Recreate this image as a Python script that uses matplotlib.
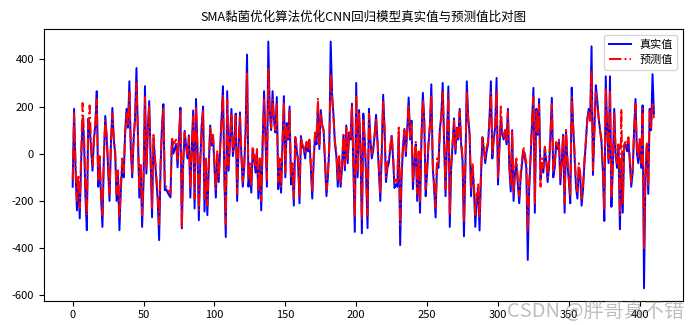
import numpy as np
import matplotlib
matplotlib.use('Agg')
from matplotlib import pyplot as plt

plt.rcParams['font.family'] = ['Noto Sans CJK SC', 'DejaVu Sans']
plt.rcParams['axes.unicode_minus'] = False

# values, 411 samples
y_true = [
  -140, 190, -60, -240, -120, -274, -30, 150, 60, -180,
  -324, 148, 110, 20, -72, 60, 120, 265, -140, -30,
  -180, -310, -20, 160, 70, -60, -200, 40, 194, 60,
  0, -200, -90, -324, -150, -40, -100, 90, 190, 110,
  307, 20, -100, 60, 150, 363, 80, -186, -60, -310,
  -120, 286, -84, 100, 223, -30, -269, 70, -20, -114,
  -200, -366, -60, 120, 210, -155, -150, -165, -175, -185,
  55, 0, 20, 42, -58, 60, 195, -316, -42, 97,
  30, -20, 78, -186, 20, 183, -232, 232, 30, -282,
  -40, 120, 200, -245, -40, -260, -60, 120, 35, 80,
  -50, -186, 0, -120, 20, 150, 286, -100, -353, 265,
  -72, 60, 190, -10, 40, 170, -200, 20, 175, -10,
  -140, -60, 100, 420, -140, -60, -165, 20, -20, -80,
  10, -190, -40, -240, 40, 265, 60, -140, 475, 180,
  100, 265, 140, 90, 240, -150, -40, -165, 40, 244,
  -100, 130, 60, 200, -130, -60, -220, 70, 20, -40,
  -210, 75, 30, 20, -20, 50, 10, 55, -60, -190,
  -30, 80, 40, 200, 20, 185, 120, 100, -40, -180,
  -100, 20, 475, 250, 160, 40, -10, -140, -30, -140,
  -60, 80, -70, 120, -40, 90, 60, 212, -60, -331,
  300, -100, 185, 40, -337, 170, 60, -100, -315, 190,
  60, -20, 15, 80, 165, 50, -80, -200, 0, 250,
  100, -120, -60, -40, 20, 75, -20, -145, -130, -140,
  90, -387, -100, 30, 105, -10, 100, 238, 60, 140,
  -150, -40, 40, -200, -10, -250, 60, 258, 140, -180,
  -80, 40, 120, 294, -60, -150, -270, -40, -60, 105,
  160, 300, 50, -180, 60, 285, -310, -60, 40, 150,
  0, 110, 60, 190, 40, -30, -350, -60, 307, 150,
  80, -180, -60, -140, -310, -200, -150, -325, -100, 70,
  20, -40, 10, 40, 150, 307, -20, 60, 110, 321,
  -130, 20, 150, 80, 60, 100, 40, 190, -60, -160,
  100, -200, -80, -40, -130, -210, -100, -40, 15, -20,
  -60, -450, -150, -20, 130, 279, -250, 190, 80, 232,
  -110, -40, -80, 20, -30, -120, -60, 80, 237, -100,
  -60, 40, 20, 50, -130, -30, 80, -250, 100, -40,
  -120, -210, 280, 120, -10, -140, -190, -60, -100, -220,
  -150, -40, 50, 150, 190, 140, 455, -90, 100, 290,
  230, 150, 100, 50, -80, -285, 328, 100, -40, 328,
  -225, -60, 190, -10, -60, 30, -320, -40, -250, 30,
  40, 10, 60, -40, -140, -80, 100, 232, 0, -40,
  60, -60, 205, -570, -100, 40, -170, 190, 100, 337, 170,
]

y_pred = [
  -110, 170, -40, -200, -90, -230, 10, 215, 90, -150,
  -260, 130, 205, 40, -50, 70, 130, 230, -110, -10,
  -150, -260, -10, 140, 80, -40, -170, 50, 170, 70,
  10, -170, -70, -270, -120, -20, -80, 80, 170, 120,
  260, 40, -80, 70, 140, 300, 90, -150, -40, -260,
  -90, 240, -60, 110, 200, -10, -230, 80, -10, -90,
  -170, -300, -40, 110, 190, -120, -140, -150, -160, -170,
  70, 40, 50, 60, -30, 80, 180, -315, -20, 90,
  40, 0, 70, -150, 30, 160, -190, 200, 40, -240,
  -20, 110, 180, -200, -20, -220, -40, 110, 50, 80,
  -30, -150, 10, -100, 30, 140, 250, -80, -300, 230,
  -50, 70, 170, 10, 50, 160, -170, 30, 160, 0,
  -120, -40, 110, 340, -110, -40, -140, 30, 0, -60,
  20, -160, -20, -200, 50, 230, 70, -110, 360, 170,
  110, 230, 140, 100, 210, -120, -20, -140, 50, 220,
  -80, 120, 70, 180, -100, -40, -190, 70, 30, -20,
  -180, 70, 40, 30, 0, 50, 20, 60, -40, -160,
  -10, 90, 60, 237, 40, 170, 120, 100, -20, -150,
  -80, 40, 340, 240, 150, 50, 10, -110, -10, -120,
  -40, 80, -50, 110, -20, 90, 70, 200, -40, -270,
  250, -80, 170, 50, -280, 150, 60, -80, -260, 170,
  60, 0, 30, 80, 150, 60, -60, -170, 20, 220,
  110, -100, -40, -20, 30, 80, 0, -120, -110, -120,
  111, -300, -80, 40, 100, 10, 100, 210, 70, 130,
  -120, -20, 50, -170, 10, -210, 70, 230, 140, -150,
  -60, 50, 120, 250, -40, -130, -230, -20, -40, 100,
  150, 260, 60, -150, 70, 250, -260, -40, 50, 140,
  20, 110, 70, 180, 50, -10, -290, -40, 260, 150,
  90, -150, -40, -120, -260, -170, -130, -270, -80, 70,
  30, -20, 30, 50, 140, 260, 0, 70, 110, 270,
  -100, 40, 200, 90, 70, 100, 50, 180, -40, -130,
  100, -170, -60, -20, -110, -180, -80, -20, 30, 0,
  -40, -330, -120, 0, 130, 240, -210, 180, 90, 210,
  -140, -20, -60, 30, -10, -100, -40, 90, 210, -80,
  -40, 50, 30, 60, -110, -10, 80, -210, 100, -20,
  -100, -180, 240, 120, 10, -120, -160, -40, -80, -190,
  -130, -20, 60, 140, 180, 140, 350, -70, 100, 260,
  210, 150, 100, 60, -60, -240, 280, 100, -20, 270,
  -190, -40, 170, 10, -40, 40, -260, 190, -210, 40,
  50, 30, 70, -20, -120, -60, 100, 210, 20, -20,
  70, -40, 190, -400, -80, 50, -140, 180, 110, 210, 150,
]

labels = ['真实值', '预测值']
title = 'SMA黏菌优化算法优化CNN回归模型真实值与预测值比对图'
xticks = [0, 50, 100, 150, 200, 250, 300, 350, 400]
yticks = [-600, -400, -200, 0, 200, 400]

fig = plt.figure(figsize=(6.92, 3.25), dpi=100)
fig.subplots_adjust(left=0.063, right=0.987, top=0.91, bottom=0.075)
ax = fig.add_subplot(111)

ax.plot(y_true, 'b-', linewidth=1.4, label=labels[0])
ax.plot(y_pred, 'r-.', linewidth=1.4, label=labels[1])
ax.set_title(title, fontsize=9)
ax.tick_params(labelsize=8)
ax.set_xticks(xticks)
ax.set_yticks(yticks)
ax.legend(loc='upper right', fontsize=8)

# watermark of the source site, as in the reference
fig.text(0.988, 0.01, 'CSDN @胖哥真不错', ha='right', va='bottom',
         fontsize=14.5, color='gray', alpha=0.5)

plt.savefig('out.png', dpi=100)
